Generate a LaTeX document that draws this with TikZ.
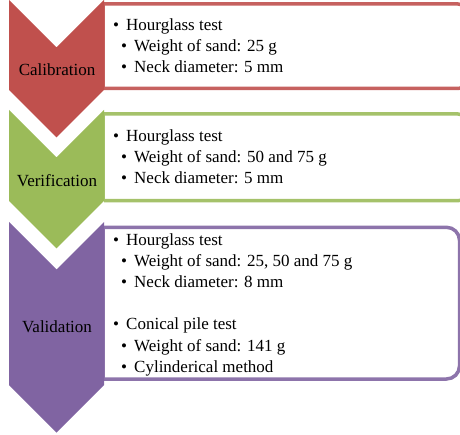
\documentclass[tikz,border=0pt]{standalone}
\usepackage{fontspec}
\setmainfont{Liberation Serif}
\newfontfamily\tnr{Liberation Serif}
\definecolor{cred}{HTML}{C0504D}
\definecolor{cgreen}{HTML}{9BBB59}
\definecolor{cpurple}{HTML}{8064A2}
\begin{document}
\begin{tikzpicture}[x=1pt,y=-1pt,
  boxline/.style={draw=#1!90!white,line width=3.5pt},
  lab/.style={inner sep=0pt,font=\tnr\fontsize{17}{21}\selectfont,text=black},
  lvone/.style={inner sep=0pt,anchor=base west,font=\tnr\fontsize{17}{21}\selectfont},
  lvtwo/.style={inner sep=0pt,anchor=base west,font=\tnr\fontsize{17}{21}\selectfont}]
\useasboundingbox (0,0) rectangle (460,435);
\clip (0,0) rectangle (460,435);
% boxes
\draw[boxline=cred,rounded corners=12] (104,4) -- (470,4) -- (470,88.5) -- (104,88.5);
\draw[boxline=cred,line width=1.5pt] (104,4) -- (104,88.5);
\draw[boxline=cgreen,rounded corners=12] (104,114) -- (470,114) -- (470,200.7) -- (104,200.7);
\draw[boxline=cgreen,line width=1.5pt] (104,114) -- (104,200.7);
\draw[boxline=cpurple,rounded corners=13] (104,227.3) -- (459.5,227.3) -- (459.5,379) -- (104,379);
\draw[boxline=cpurple,line width=1.5pt] (104,227.3) -- (104,379);
% chevrons
\fill[cred] (9,0) -- (56.5,47.5) -- (104,0) -- (104,90) -- (56.5,137.5) -- (9,90) -- cycle;
\fill[cgreen] (9,110) -- (56.5,157.5) -- (104,110) -- (104,201) -- (56.5,248.5) -- (9,201) -- cycle;
\fill[cpurple] (9,222) -- (56.5,269.5) -- (104,222) -- (104,385) -- (56.5,432.5) -- (9,385) -- cycle;
% labels
\node[lab] (calib) at (57,70) {Calibration};
\node[lab] (verif) at (57,180.5) {Verification};
\node[lab] (valid) at (57,326.5) {Validation};
% texts
\newcommand{\bone}{\makebox[13pt][l]{•}}
\newcommand{\btwo}{\makebox[13pt][l]{•}}
\node[lvone] (t1a) at (113,30.7) {\bone Hourglass test};
\node[lvtwo] (t1b) at (121,51.7) {\btwo Weight of sand: 25 g};
\node[lvtwo] (t1c) at (121,72.7) {\btwo Neck diameter: 5 mm};
\node[lvone] (t2a) at (113,141.7) {\bone Hourglass test};
\node[lvtwo] (t2b) at (121,162.7) {\btwo Weight of sand: 50 and 75 g};
\node[lvtwo] (t2c) at (121,183.7) {\btwo Neck diameter: 5 mm};
\node[lvone] (t3a) at (113,245.7) {\bone Hourglass test};
\node[lvtwo] (t3b) at (121,266.7) {\btwo Weight of sand: 25, 50 and 75 g};
\node[lvtwo] (t3c) at (121,287.7) {\btwo Neck diameter: 8 mm};
\node[lvone] (t3d) at (113,330) {\bone Conical pile test};
\node[lvtwo] (t3e) at (121,351) {\btwo Weight of sand: 141 g};
\node[lvtwo] (t3f) at (121,372) {\btwo Cylinderical method};
\end{tikzpicture}
\end{document}
